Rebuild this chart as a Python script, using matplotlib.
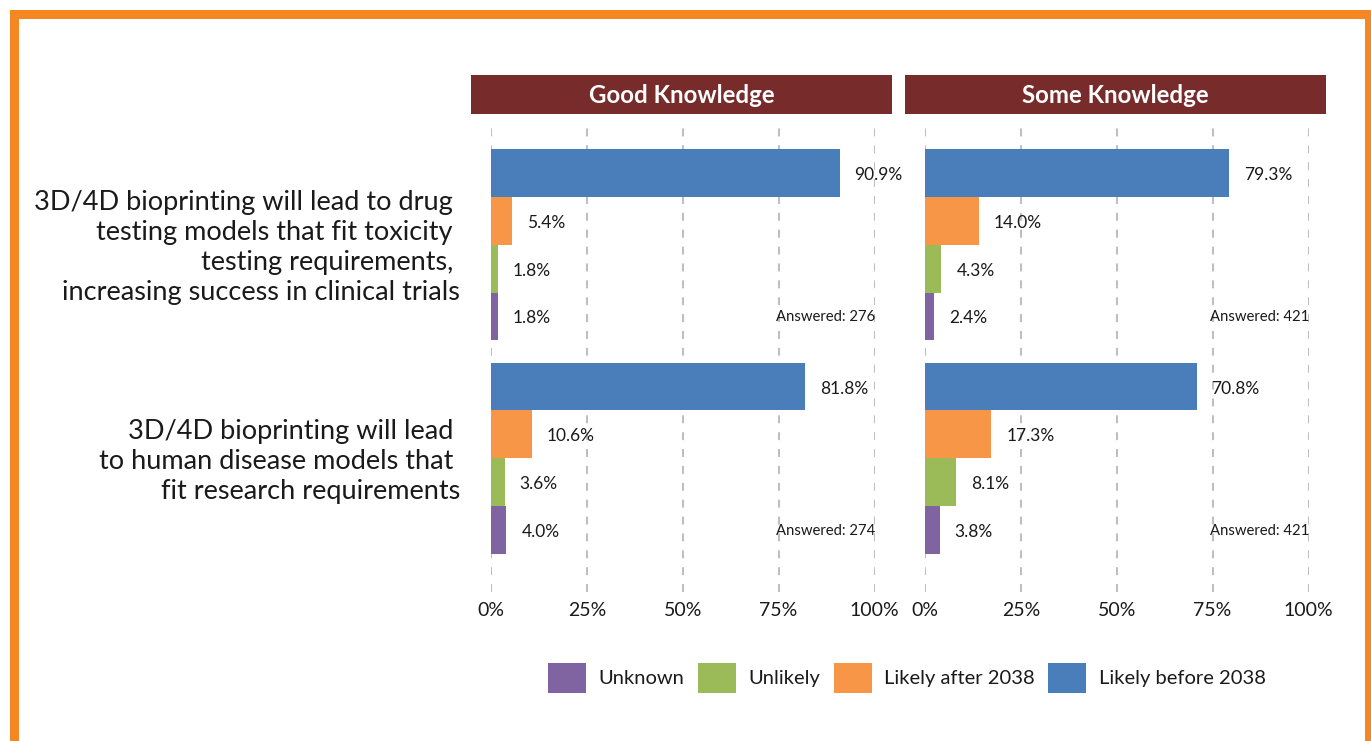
import matplotlib
matplotlib.use("Agg")
import matplotlib.pyplot as plt
from matplotlib.patches import Rectangle, Patch
import numpy as np

plt.rcParams['font.family'] = ['Lato', 'DejaVu Sans']

# ---------------- data ----------------
panels = ["Good Knowledge", "Some Knowledge"]
series = ["Likely before 2038", "Likely after 2038", "Unlikely", "Unknown"]
colors = ["#4A7EBB", "#F79646", "#9BBB59", "#8064A2"]

good_before = [90.9, 81.8]
good_after = [5.4, 10.6]
good_unlikely = [1.8, 3.6]
good_unknown = [1.8, 4.0]

some_before = [79.3, 70.8]
some_after = [14.0, 17.3]
some_unlikely = [4.3, 8.1]
some_unknown = [2.4, 3.8]

answered_good = [276, 274]
answered_some = [421, 421]

question_lines = [
    ["3D/4D bioprinting will lead to drug",
     "testing models that fit toxicity",
     "testing requirements,",
     "increasing success in clinical trials"],
    ["3D/4D bioprinting will lead",
     "to human disease models that",
     "fit research requirements"],
]
xticks = [0, 25, 50, 75, 100]
xticklabels = ["0%", "25%", "50%", "75%", "100%"]

panel_values = [
    [good_before, good_after, good_unlikely, good_unknown],
    [some_before, some_after, some_unlikely, some_unknown],
]
panel_answered = [answered_good, answered_some]

# ---------------- layout ----------------
W, H = 1371, 741
fig = plt.figure(figsize=(W / 100, H / 100), dpi=100)
fig.patch.set_facecolor("white")

def fx(px):
    return px / W

def fy(py):
    return 1 - py / H

ax_left = [491, 925]
ax_width = 383.5
ax_top, ax_bottom = 123, 592
header_x = [(471, 892), (905, 1326)]
header_y = (75, 114)

bar_h = 0.224
n = len(series)
offsets = (np.arange(n) - (n - 1) / 2) * bar_h
ylim = (1.626, -0.570)

grid_color = "#BFBFBF"
text_color = "#1a1a1a"

axes = []
for p in range(2):
    ax = fig.add_axes([fx(ax_left[p]), fy(ax_bottom), fx(ax_width),
                       (ax_bottom - ax_top) / H])
    axes.append(ax)
    vals = panel_values[p]
    cats = np.arange(len(vals[0]))
    for s in range(n):
        ax.barh(cats + offsets[s], vals[s], height=bar_h, color=colors[s],
                edgecolor="none", zorder=3)
        for c in cats:
            ax.annotate(f"{vals[s][c]:.1f}%", xy=(vals[s][c], c + offsets[s]),
                        xytext=(15, -2), textcoords="offset pixels",
                        ha="left", va="center", fontsize=12.5, color=text_color,
                        annotation_clip=False)
    for c in cats:
        ax.annotate(f"Answered: {panel_answered[p][c]}",
                    xy=(100, c + offsets[-1]), xytext=(1, -1),
                    textcoords="offset pixels", ha="right", va="center",
                    fontsize=10.75, color=text_color, annotation_clip=False)
    ax.set_xlim(0, 100)
    ax.set_ylim(*ylim)
    for xt in xticks:
        ax.axvline(xt, color=grid_color, lw=1.5, linestyle=(0, (3.8, 4.3)),
                   zorder=1)
    ax.set_xticks(xticks)
    ax.set_xticklabels(xticklabels)
    ax.tick_params(axis="x", length=0, pad=7.5, labelsize=14,
                   labelcolor=text_color)
    ax.set_yticks([])
    for sp in ax.spines.values():
        sp.set_visible(False)
    ax.patch.set_alpha(0)

    # header box
    x0, x1 = header_x[p]
    fig.add_artist(Rectangle((fx(x0), fy(header_y[1])), fx(x1 - x0),
                             (header_y[1] - header_y[0]) / H,
                             transform=fig.transFigure, facecolor="#772B2B",
                             edgecolor="none"))
    fig.text(fx((x0 + x1) / 2), fy((header_y[0] + header_y[1]) / 2 + 1),
             panels[p], ha="center", va="center", color="white",
             fontsize=17.3, fontweight="bold")

# question labels (right-aligned beside first panel)
ax0 = axes[0]
line_step = 30
for c, lines in enumerate(question_lines):
    m = len(lines)
    for i, line in enumerate(lines):
        right = 460 if i == m - 1 else 453
        dy = -((i - (m - 1) / 2) * line_step) - 3
        ax0.annotate(line, xy=(fx(right), c), xycoords=("figure fraction", "data"),
                     xytext=(0, dy), textcoords="offset pixels",
                     ha="right", va="center", fontsize=19.5, color=text_color,
                     annotation_clip=False)

# legend
leg_order = [3, 2, 1, 0]
handles = [Patch(facecolor=colors[i], edgecolor="none", label=series[i])
           for i in leg_order]
fs = 14.5
fpx = fs * 100 / 72
leg = fig.legend(handles=handles, loc="center",
                 bbox_to_anchor=(fx(907), fy(678)), ncol=4, frameon=False,
                 fontsize=fs, handlelength=38 / fpx, handleheight=38 / fpx,
                 handletextpad=13 / fpx, columnspacing=13 / fpx,
                 borderaxespad=0, borderpad=0)
for t in leg.get_texts():
    t.set_color(text_color)

# orange frame
bw = 9
fig.add_artist(Rectangle((fx(9 + bw / 2), fy(760)), fx(1368.5 - 13.5),
                         (760 - 13.5) / H, transform=fig.transFigure,
                         facecolor="none", edgecolor="#F58722",
                         linewidth=bw * 72 / 100, joinstyle="miter"))

fig.savefig("out.png", dpi=100, facecolor="white")
